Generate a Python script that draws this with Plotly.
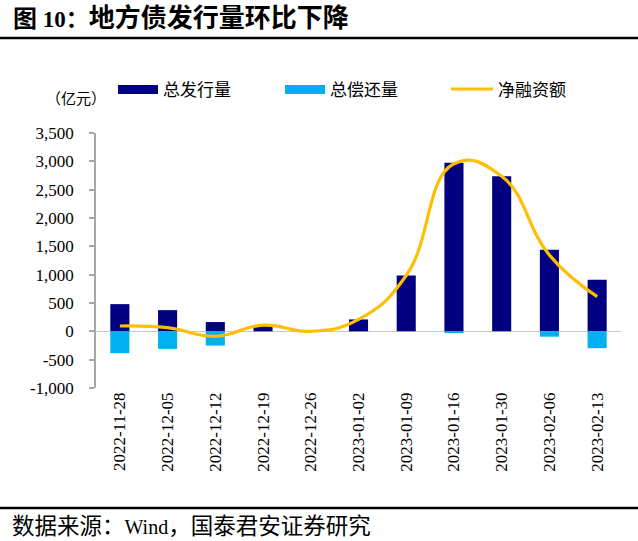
import plotly.graph_objects as go

# ---- data ----
dates = ["2022-11-28", "2022-12-05", "2022-12-12", "2022-12-19", "2022-12-26",
         "2023-01-02", "2023-01-09", "2023-01-16", "2023-01-30", "2023-02-06", "2023-02-13"]
issuance = [480, 374, 164, 110, 0, 210, 985, 2977, 2737, 1439, 912]
repayment = [-386, -310, -251, 0, 0, 0, 0, -20, 0, -94, -298]
net_financing = [94, 64, -87, 110, 0, 210, 985, 2957, 2737, 1345, 614]
y_ticks = [-1000, -500, 0, 500, 1000, 1500, 2000, 2500, 3000, 3500]
y_tick_text = ["-1,000", "-500", "0", "500", "1,000", "1,500", "2,000", "2,500", "3,000", "3,500"]

NAVY = "#000080"
LIGHT = "#00B0F0"
GOLD = "#FFBF00"

W, H = 638, 541
L, R, T, B = 96, 17, 133, 153
PW = W - L - R
PH = H - T - B


def px(x):
    return (x - L) / PW


def py(y):
    return (H - B - y) / PH


serif = "Liberation Serif, Noto Sans CJK SC, serif"
cjk = "Noto Sans CJK SC, sans-serif"

fig = go.Figure()
fig.add_trace(go.Bar(x=dates, y=issuance, name="总发行量", marker=dict(color=NAVY, line=dict(width=0)),
                     width=0.4))
fig.add_trace(go.Bar(x=dates, y=repayment, name="总偿还量", marker=dict(color=LIGHT, line=dict(width=0)),
                     width=0.4))
fig.add_trace(go.Scatter(x=dates, y=net_financing, name="净融资额", mode="lines",
                         line=dict(color=GOLD, width=3.2, shape="spline", smoothing=1.3)))

fig.update_layout(
    width=W, height=H,
    margin=dict(l=L, r=R, t=T, b=B, autoexpand=False),
    paper_bgcolor="white", plot_bgcolor="white",
    barmode="relative",
    showlegend=False,
    font=dict(family=serif, color="black", size=15),
)
fig.update_xaxes(
    type="category", range=[-0.5, 10.5], tickangle=-90,
    showline=False, showgrid=False, zeroline=False, ticks="",
    tickfont=dict(family=serif, size=17, color="black"),
)
fig.update_yaxes(
    range=[-1000, 3500], tickvals=y_ticks, ticktext=y_tick_text,
    showline=True, linecolor="#A6A6A6", linewidth=1.5,
    ticks="outside", ticklen=5, tickcolor="#A6A6A6", tickwidth=1.5,
    ticklabelstandoff=12,
    showgrid=False, zeroline=True, zerolinecolor="#C8C8C8", zerolinewidth=1,
    tickfont=dict(family=serif, size=17, color="black"),
)

shapes = []
ann = []
# title and rules
shapes.append(dict(type="line", xref="paper", yref="paper", x0=px(0), x1=px(638), y0=py(38), y1=py(38),
                   line=dict(color="black", width=2.5)))
shapes.append(dict(type="line", xref="paper", yref="paper", x0=px(0), x1=px(638), y0=py(508), y1=py(508),
                   line=dict(color="black", width=2.5)))
ann.append(dict(xref="paper", yref="paper", x=px(11), y=py(18), xanchor="left", yanchor="middle",
                text="<b><span style='font-size:24px'>图</span> 10：<span style='font-size:26px'>地方债发行量环比下降</span></b>",
                showarrow=False,
                font=dict(family=serif, size=23, color="black")))
ann.append(dict(xref="paper", yref="paper", x=px(10), y=py(526), xanchor="left", yanchor="middle",
                text="<span style='font-size:22.5px'>数据来源：</span>Wind<span style='font-size:22.5px'>，国泰君安证券研究</span>",
                showarrow=False,
                font=dict(family=serif, size=20, color="black")))
ann.append(dict(xref="paper", yref="paper", x=px(44), y=py(97), xanchor="left", yanchor="middle",
                text="（亿元）", showarrow=False,
                font=dict(family=cjk, size=15, color="black")))
# legend
shapes.append(dict(type="rect", xref="paper", yref="paper", x0=px(118), x1=px(158), y0=py(85), y1=py(94),
                   fillcolor=NAVY, line=dict(width=0)))
shapes.append(dict(type="rect", xref="paper", yref="paper", x0=px(285), x1=px(325), y0=py(85), y1=py(94),
                   fillcolor=LIGHT, line=dict(width=0)))
shapes.append(dict(type="line", xref="paper", yref="paper", x0=px(451), x1=px(493), y0=py(89), y1=py(89),
                   line=dict(color=GOLD, width=3.2)))
for xpos, label in [(161, "总发行量"), (328, "总偿还量"), (496, "净融资额")]:
    ann.append(dict(xref="paper", yref="paper", x=px(xpos), y=py(89), xanchor="left", yanchor="middle",
                    text=label, showarrow=False, font=dict(family=cjk, size=17, color="black")))

fig.update_layout(shapes=shapes, annotations=ann)
fig.write_html("out.html")
